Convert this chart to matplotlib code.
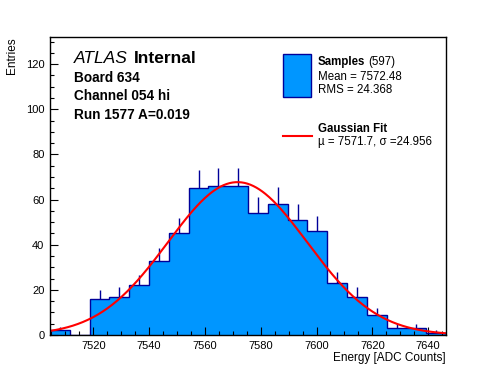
import numpy as np
import matplotlib
matplotlib.use("Agg")
import matplotlib.pyplot as plt
from matplotlib.ticker import MultipleLocator
from matplotlib.patches import Rectangle
from matplotlib.lines import Line2D

# histogram of samples (20 bins)
x_min, x_max = 7504.5, 7646.4
counts = [2, 0, 16, 17, 22, 33, 45, 65, 66, 66,
          54, 58, 51, 46, 23, 17, 9, 3, 3, 1]
n_entries = 597
mean, rms = 7572.48, 24.368
fit_mu, fit_sigma = 7571.7, 24.956

plt.rcParams['font.family'] = ['Liberation Sans', 'DejaVu Sans']

fig = plt.figure(figsize=(4.96, 3.72), dpi=100)
ax = fig.add_axes([50/496, 37/372, 396/496, 298/372])

counts = np.array(counts)
edges = np.linspace(x_min, x_max, len(counts) + 1)
centers = 0.5 * (edges[:-1] + edges[1:])
width = edges[1] - edges[0]

ax.stairs(counts, edges, fill=True, color='#0096ff', zorder=1)
ax.stairs(counts, edges, color='#000099', lw=1.0, zorder=2)
nz = counts > 0
ax.vlines(centers[nz], counts[nz], counts[nz] + np.sqrt(counts[nz]),
          color='#000099', lw=1.0, zorder=2)

xs = np.linspace(x_min, x_max, 400)
amp = n_entries * width / (fit_sigma * np.sqrt(2 * np.pi))
ax.plot(xs, amp * np.exp(-0.5 * ((xs - fit_mu) / fit_sigma) ** 2), color='red', lw=1.5, zorder=3)

ax.set_xlim(x_min, x_max)
ax.set_ylim(0, 132)
ax.xaxis.set_major_locator(MultipleLocator(20))
ax.xaxis.set_minor_locator(MultipleLocator(5))
ax.yaxis.set_major_locator(MultipleLocator(20))
ax.yaxis.set_minor_locator(MultipleLocator(5))
ax.tick_params(which='both', direction='in', top=False, right=False, labelsize=8, width=0.8, zorder=5)
ax.tick_params(which='major', length=6, pad=4)
ax.tick_params(which='minor', length=3)
for s in ax.spines.values():
    s.set_linewidth(1.0)
    s.set_zorder(6)

ax.set_xlabel('Energy [ADC Counts]', fontsize=8.5, loc='right', labelpad=1)
ax.set_ylabel('Entries', fontsize=8.5, loc='top')
ax.yaxis.set_label_coords(-32/396, 1.0)


def ax_pos(px, py):
    # figure pixel -> axes fraction
    return (px - 50) / 396, 1 - (py - 37) / 298


# labels top left
ax.text(*ax_pos(74, 63), 'ATLAS', transform=ax.transAxes, fontsize=12.5, style='italic')
ax.text(*ax_pos(134, 63), 'Internal', transform=ax.transAxes, fontsize=12.5, weight='bold')
info = ['Board 634', 'Channel 054 hi', 'Run 1577 A=0.019']
for i, t in enumerate(info):
    ax.text(*ax_pos(74, 82 + 18.5 * i), t, transform=ax.transAxes, fontsize=9.8, weight='bold')

# legend
x0, y0 = ax_pos(283, 97)
ax.add_patch(Rectangle((x0, y0), 28/396, 43/298, transform=ax.transAxes,
                       facecolor='#0096ff', edgecolor='#000099', lw=1.0, zorder=7))
xa, ya = ax_pos(283, 136)
ax.add_line(Line2D([xa, xa + 29/396], [ya, ya], transform=ax.transAxes,
                   color='red', lw=1.5, zorder=7))
ax.text(*ax_pos(317.5, 65), 'Samples', transform=ax.transAxes, fontsize=8.3, weight='bold')
ax.text(*ax_pos(368, 65), '(%d)' % n_entries, transform=ax.transAxes, fontsize=8.3)
ax.text(*ax_pos(317.5, 80), 'Mean = %.2f' % mean, transform=ax.transAxes, fontsize=8.3)
ax.text(*ax_pos(317.5, 93), 'RMS = %.3f' % rms, transform=ax.transAxes, fontsize=8.3)
ax.text(*ax_pos(317.5, 132), 'Gaussian Fit', transform=ax.transAxes, fontsize=8.3, weight='bold')
ax.text(*ax_pos(317.5, 145), 'µ = %.1f, σ =%.3f' % (fit_mu, fit_sigma),
        transform=ax.transAxes, fontsize=8.3)

fig.savefig('out.png', dpi=100)
